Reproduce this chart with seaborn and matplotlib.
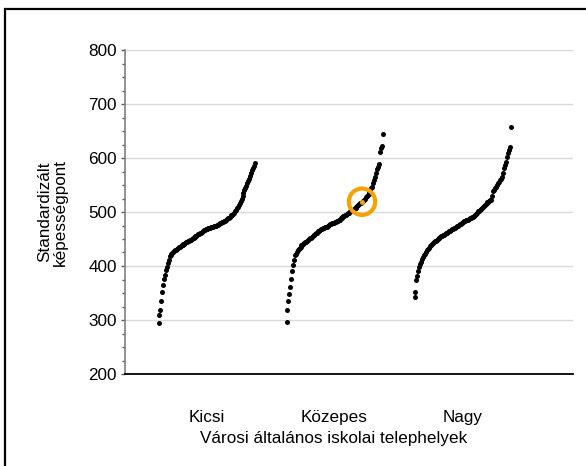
import numpy as np
import pandas as pd
import matplotlib
matplotlib.use("Agg")
import matplotlib.pyplot as plt
import seaborn as sns
from matplotlib.patches import Rectangle
from matplotlib.ticker import MultipleLocator

# ---- data (sorted scores per school-site size) ----
categories = ["Kicsi", "Közepes", "Nagy"]

kicsi = [295, 310, 318, 335, 352, 365, 376, 384, 392, 399, 406, 412, 419, 421, 422,
         424, 425, 427, 429, 430, 432, 433, 435, 436, 437, 438, 439, 440, 441, 442,
         444, 445, 446, 447, 448, 449, 450, 451, 452, 453, 455, 456, 457, 459, 460,
         461, 462, 463, 465, 466, 467, 468, 468, 469, 470, 470, 471, 472, 472, 473,
         474, 474, 475, 476, 476, 477, 478, 479, 480, 481, 482, 483, 484, 485, 487,
         488, 489, 491, 492, 494, 495, 497, 499, 501, 504, 507, 510, 513, 517, 521,
         525, 530, 535, 540, 544, 549, 553, 557, 562, 567, 572, 577, 582, 586, 590]

kozepes = [297, 318, 335, 348, 362, 376, 390, 402, 412, 420, 423, 426, 429, 431, 434,
           436, 438, 439, 441, 442, 444, 445, 447, 448, 450, 451, 452, 454, 455, 457,
           458, 460, 461, 462, 464, 465, 467, 468, 469, 470, 471, 472, 472, 473, 474,
           475, 476, 477, 478, 479, 480, 480, 481, 482, 483, 484, 485, 486, 488, 489,
           490, 492, 493, 494, 495, 497, 498, 499, 501, 502, 503, 504, 506, 507, 508,
           510, 511, 513, 514, 516, 517, 519, 521, 523, 525, 527, 529, 531, 534, 537,
           541, 544, 547, 553, 559, 565, 572, 579, 584, 588, 612, 618, 622, 645]

nagy = [342, 351, 375, 382, 390, 398, 403, 408, 413, 417, 420, 423, 426, 429, 432,
        434, 437, 439, 441, 443, 445, 446, 447, 449, 450, 451, 452, 453, 455, 456,
        457, 458, 459, 461, 462, 463, 464, 465, 467, 468, 469, 470, 471, 472, 474,
        475, 476, 477, 478, 480, 481, 482, 483, 484, 485, 486, 486, 487, 488, 489,
        490, 491, 493, 495, 497, 499, 501, 502, 504, 506, 508, 509, 511, 513, 514,
        516, 518, 519, 520, 522, 523, 530, 538, 541, 544, 547, 550, 553, 556, 559,
        562, 565, 573, 581, 587, 593, 601, 609, 615, 621, 658]

highlight_group = "Közepes"
highlight_value = 519

y_ticks = [200, 300, 400, 500, 600, 700, 800]
y_label = "Standardizált\nképességpont"
x_label = "Városi általános iskolai telephelyek"

# ---- build table ----
rows = []
for gi, (cat, vals) in enumerate(zip(categories, [kicsi, kozepes, nagy])):
    vals = sorted(vals)
    n = len(vals)
    for r, v in enumerate(vals):
        frac = r / (n - 1)
        rows.append(dict(group=cat, value=v, pos=gi + 1 + (frac - 0.5) * 0.75))
df = pd.DataFrame(rows)

sns.set_theme(style="white")
plt.rcParams['font.family'] = ['Liberation Sans', 'DejaVu Sans']
FS = 12.3

fig = plt.figure(figsize=(5.86, 4.66), dpi=100)
ax = fig.add_axes([125 / 586, 1 - 374 / 466, 448 / 586, 324 / 466])

sns.scatterplot(data=df, x="pos", y="value", color="black", s=13, linewidth=0,
                ax=ax, legend=False, zorder=3)

# highlighted point
sub = df[df.group == highlight_group]
hl = sub.iloc[(sub.value - highlight_value).abs().argmin()]
orange = "#F5A300"
ax.scatter([hl.pos], [hl.value], s=13, color=orange, zorder=4, linewidths=0)
ax.scatter([hl.pos], [hl.value], s=360, facecolors="none", edgecolors=orange,
           linewidths=3, zorder=5)

ax.set_xlim(0.363, 3.863)
ax.set_ylim(200, 800)
ax.set_yticks(y_ticks)
ax.yaxis.set_minor_locator(MultipleLocator(25))
ax.set_xticks([1, 2, 3])
ax.set_xticklabels(categories)
ax.grid(axis="y", which="major", color="#d9d9d9", linewidth=1)
ax.set_axisbelow(True)

for s in ["top", "right"]:
    ax.spines[s].set_visible(False)
ax.spines["left"].set_color("#808080")
ax.spines["left"].set_linewidth(1.2)
ax.spines["bottom"].set_color("black")
ax.spines["bottom"].set_linewidth(1.3)

ax.tick_params(axis="y", which="major", direction="out", length=3, width=1,
               color="#595959", pad=3, labelsize=FS, labelcolor="black", left=True)
ax.tick_params(axis="y", which="minor", direction="out", length=2, width=1,
               color="#595959", left=True)
ax.tick_params(axis="x", which="both", length=0, pad=26, labelsize=FS,
               labelcolor="black")

ax.set_xlabel(x_label, fontsize=FS, color="black")
ax.xaxis.set_label_coords((334 - 125) / 448, -0.175)
ax.set_ylabel(y_label, fontsize=FS, color="black", linespacing=1.0)
ax.yaxis.set_label_coords(-0.128, 0.5)

# figure frame (left and top edges visible in the reference)
fig.add_artist(Rectangle((4.5 / 586, -0.1), 1.2, 1.1 - 8.5 / 466,
                         transform=fig.transFigure, fill=False,
                         edgecolor="black", linewidth=1.6, clip_on=False))

fig.savefig("out.png", dpi=100)
